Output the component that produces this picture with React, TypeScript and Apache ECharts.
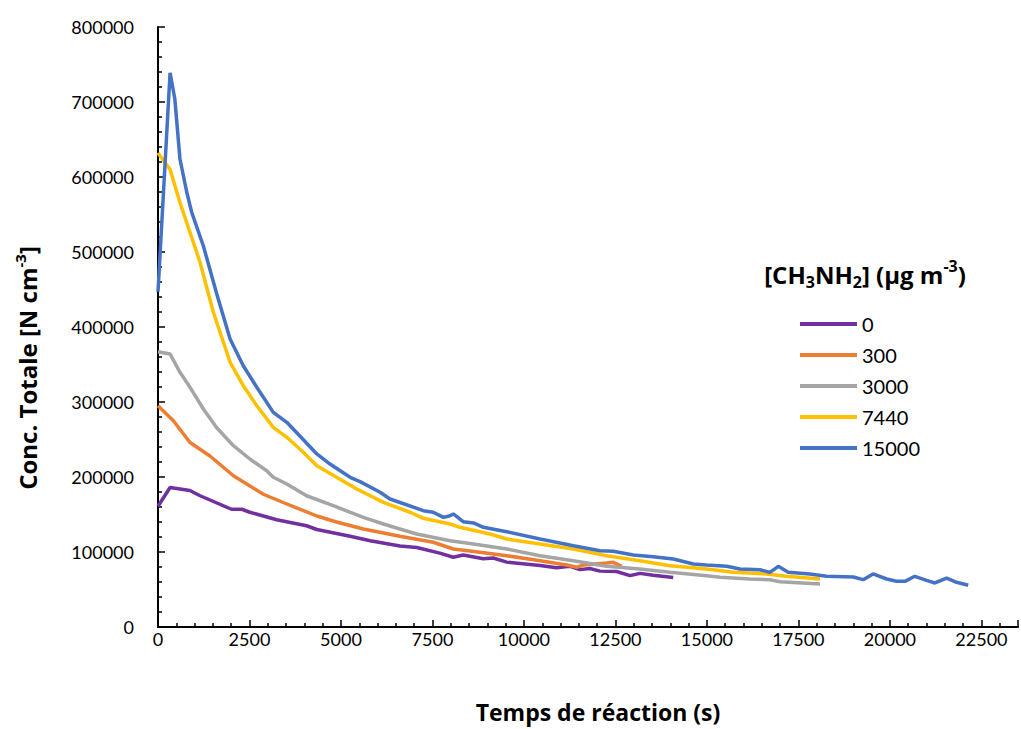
import React, { useEffect, useRef } from "react";
import * as echarts from "echarts";

// Legend labels ([CH3NH2] in µg m-3)
const seriesNames = ["0", "300", "3000", "7440", "15000"];
const seriesColors = ["#7030A0", "#ED7D31", "#A5A5A5", "#FFC000", "#4472C4"];

// Series 0
const t0 = [0, 330, 870, 1150, 2010, 2290, 2510, 2880, 3240, 4060, 4340, 5250, 5800, 6610, 7070, 7700, 8070, 8340, 8890, 9160, 9530, 10440, 10890, 11260, 11530, 11800, 12080, 12530, 12900, 13170, 13530, 14080];
const c0 = [161000, 186000, 182000, 175000, 157000, 157000, 153000, 148000, 143000, 135000, 130000, 121000, 115000, 108000, 106000, 98500, 93000, 96000, 91000, 92000, 86500, 82000, 79000, 81000, 76500, 78000, 74500, 74000, 68500, 71500, 69000, 66000];

// Series 300
const t1 = [0, 420, 875, 1420, 2060, 2880, 3420, 4340, 4880, 5610, 6610, 7520, 8070, 8800, 9530, 10440, 11170, 11440, 11620, 12260, 12440, 12670];
const c1 = [295000, 275000, 246000, 228000, 201700, 177000, 166000, 148000, 140000, 130700, 121000, 113000, 104000, 99600, 95100, 88400, 82700, 79600, 82700, 85300, 86200, 81000];

// Series 3000
const t2 = [0, 330, 600, 875, 1240, 1600, 2060, 2510, 2970, 3150, 3520, 4060, 4790, 5610, 6160, 6610, 7070, 7980, 8620, 9530, 10440, 11350, 12260, 13170, 13990, 14990, 15360, 16170, 16720, 17000, 18090];
const c2 = [367000, 364000, 339600, 319600, 290700, 266000, 241700, 224000, 208400, 199600, 190700, 175000, 161700, 146200, 137300, 130700, 124000, 115000, 110700, 104000, 95100, 88400, 80900, 77300, 72900, 68400, 66200, 64000, 63100, 60400, 57300];

// Series 7440
const t3 = [0, 330, 600, 875, 1150, 1510, 1970, 2330, 2700, 3150, 3520, 3970, 4340, 4880, 5430, 6160, 6890, 7250, 7980, 8250, 9070, 9530, 10440, 11350, 12260, 13170, 13990, 14990, 15720, 16620, 17170, 18090];
const c3 = [632000, 610000, 566000, 526000, 486000, 420000, 353000, 321700, 295000, 266200, 252900, 232900, 215000, 199600, 184000, 166200, 153000, 144900, 137300, 132900, 124000, 117300, 110700, 104000, 95100, 88400, 81800, 77300, 72900, 70700, 67600, 64000];

// Series 15000
const t4 = [0, 330, 460, 600, 785, 920, 1240, 1600, 1970, 2330, 2700, 3150, 3520, 4340, 4700, 5250, 5520, 6070, 6340, 7250, 7520, 7800, 7980, 8070, 8340, 8620, 8890, 9530, 10440, 11350, 12080, 12440, 12990, 13530, 14080, 14630, 14990, 15540, 15900, 16450, 16720, 16950, 17220, 17810, 18270, 19000, 19270, 19540, 19910, 20180, 20410, 20680, 21000, 21230, 21550, 21820, 22140];
const c4 = [447000, 739000, 704000, 624000, 580000, 553000, 508000, 445000, 384000, 348400, 319600, 286200, 272900, 230700, 217300, 199600, 193800, 179600, 170700, 155100, 153000, 146200, 148400, 150700, 140400, 138700, 132900, 127100, 117300, 108400, 101700, 100900, 96000, 93700, 90700, 84000, 82700, 80900, 77300, 76400, 72900, 80900, 72900, 70700, 67600, 66700, 63100, 70700, 64000, 60900, 60900, 67600, 62200, 58700, 65300, 59600, 55600];

const times = [t0, t1, t2, t3, t4];
const concs = [c0, c1, c2, c3, c4];

const FONT = "Lato, 'Open Sans', sans-serif";
const BOLD_FONT = "'Open Sans', Lato, sans-serif";

export default function App() {
  const ref = useRef<HTMLDivElement>(null);
  useEffect(() => {
    if (!ref.current) return;
    const chart = echarts.init(ref.current, undefined, { renderer: "svg" });
    const series = seriesNames.map((name, i) => ({
      name,
      type: "line",
      data: times[i].map((t, j) => [t, concs[i][j]]),
      symbol: "none",
      showSymbol: false,
      lineStyle: { width: 3.5, color: seriesColors[i] },
      itemStyle: { color: seriesColors[i] },
      z: 2 + i,
    }));
    chart.setOption({
      animation: false,
      backgroundColor: "#ffffff",
      textStyle: { fontFamily: FONT },
      grid: { left: 158, top: 27, right: 3, bottom: 102 },
      xAxis: {
        type: "value",
        min: 0,
        max: 23500,
        interval: 2500,
        splitLine: { show: false },
        axisLine: { show: true, lineStyle: { color: "#000", width: 2 } },
        axisTick: { show: true, inside: true, length: 7, lineStyle: { color: "#000", width: 1.5 } },
        minorTick: { show: true, splitNumber: 5, length: 4, lineStyle: { color: "#000", width: 1.5 } },
        axisLabel: {
          color: "#000",
          fontSize: 18,
          fontFamily: FONT,
          margin: 3,
          showMaxLabel: false,
          formatter: (v: number) => (v % 2500 === 0 ? String(v) : ""),
        },
      },
      yAxis: {
        type: "value",
        min: 0,
        max: 800000,
        interval: 100000,
        splitLine: { show: false },
        axisLine: { show: true, lineStyle: { color: "#000", width: 2 } },
        axisTick: { show: true, inside: true, length: 7, lineStyle: { color: "#000", width: 1.5 } },
        minorTick: { show: true, splitNumber: 5, length: 4, lineStyle: { color: "#000", width: 1.5 } },
        axisLabel: {
          color: "#000",
          fontSize: 18,
          fontFamily: FONT,
          margin: 24,
          formatter: (v: number) => String(v),
        },
      },
      legend: {
        orient: "vertical",
        left: 795,
        top: 309,
        icon: "rect",
        itemWidth: 57,
        itemHeight: 4,
        itemGap: 11,
        data: seriesNames,
        textStyle: { color: "#000", fontSize: 20, fontFamily: FONT },
      },
      graphic: [
        {
          type: "text",
          x: 27,
          y: 368,
          rotation: Math.PI / 2,
          style: {
            text: "{a|Conc. Totale [N cm}{s|-3}{a|]}",
            align: "center",
            verticalAlign: "middle",
            rich: {
              a: { fontSize: 24, fontWeight: "bold", fontFamily: BOLD_FONT, fill: "#000", lineHeight: 30, verticalAlign: "middle" },
              s: { fontSize: 15, fontWeight: "bold", fontFamily: BOLD_FONT, fill: "#000", lineHeight: 17, verticalAlign: "top" },
            },
          },
        },
        {
          type: "text",
          x: 598,
          y: 712,
          style: {
            text: "Temps de réaction (s)",
            align: "center",
            verticalAlign: "middle",
            fontSize: 23,
            fontWeight: "bold",
            fontFamily: BOLD_FONT,
            fill: "#000",
          },
        },
        {
          type: "text",
          x: 865,
          y: 274,
          style: {
            text: "{a|[CH}{b|3}{a|NH}{b|2}{a|] (µg m}{c|-3}{a|)}",
            align: "center",
            verticalAlign: "middle",
            rich: {
              a: { fontSize: 24, fontWeight: "bold", fontFamily: BOLD_FONT, fill: "#000", lineHeight: 32, verticalAlign: "middle" },
              b: { fontSize: 16, fontWeight: "bold", fontFamily: BOLD_FONT, fill: "#000", lineHeight: 16, verticalAlign: "bottom" },
              c: { fontSize: 16, fontWeight: "bold", fontFamily: BOLD_FONT, fill: "#000", lineHeight: 16, verticalAlign: "top" },
            },
          },
        },
      ],
      series,
    });
    return () => chart.dispose();
  }, []);
  return (
    <div
      ref={ref}
      style={{ position: "fixed", left: 0, top: 0, width: 1021, height: 729, background: "#fff" }}
    />
  );
}
